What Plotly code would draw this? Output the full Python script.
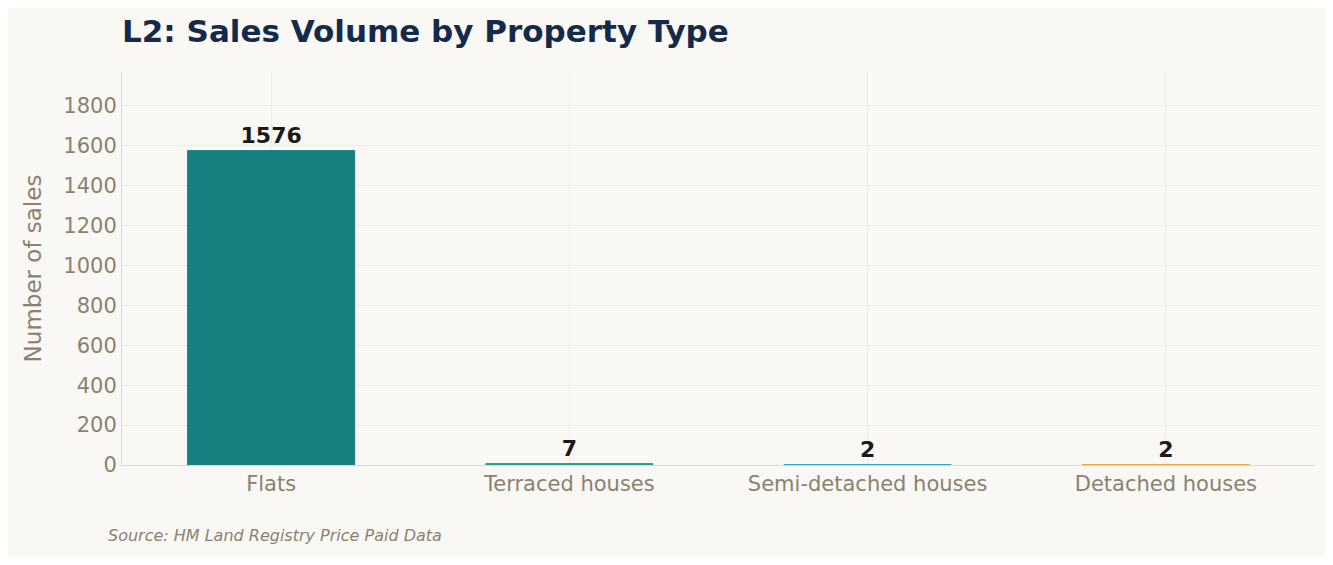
import plotly.graph_objects as go

categories = ["Flats", "Terraced houses", "Semi-detached houses", "Detached houses"]
sales = [1576, 7, 2, 2]
colors = ["#167f7f", "#1f9e8a", "#2a9fd0", "#e8a33a"]

fig = go.Figure(go.Bar(
    x=categories, y=sales, marker_color=colors, width=0.56,
    marker_line=dict(color=colors, width=1),
    text=[str(v) for v in sales], textposition="outside",
    textfont=dict(size=22, color="#1a1a1a", family="DejaVu Sans", weight="bold"),
    cliponaxis=False,
))
fig.update_layout(
    width=1317, height=549,
    paper_bgcolor="#f9f8f4", plot_bgcolor="#f9f8f4",
    font=dict(family="DejaVu Sans", color="#8a8270"),
    title=dict(text="<b>L2: Sales Volume by Property Type</b>", x=0.0866, xanchor="left",
               y=0.957, yanchor="middle", font=dict(size=31, color="#152a4a")),
    margin=dict(l=114, r=10, t=64, b=92),
    showlegend=False,
    annotations=[dict(text="<i>Source: HM Land Registry Price Paid Data</i>", xref="paper", yref="paper",
                      x=-0.013, y=-0.18, xanchor="left", yanchor="middle", showarrow=False,
                      font=dict(size=16, color="#8a8270"))],
)
fig.update_yaxes(range=[0, 1970], dtick=200, title=dict(text="Number of sales", font=dict(size=23)),
                 tickfont=dict(size=21), gridcolor="#eeece6", showline=True, linecolor="#ddd9cc",
                 zeroline=False, ticks="")
fig.update_xaxes(tickfont=dict(size=21), showgrid=True, gridcolor="#eeece6", showline=True,
                 linecolor="#ddd9cc")
fig.write_html("out.html")
